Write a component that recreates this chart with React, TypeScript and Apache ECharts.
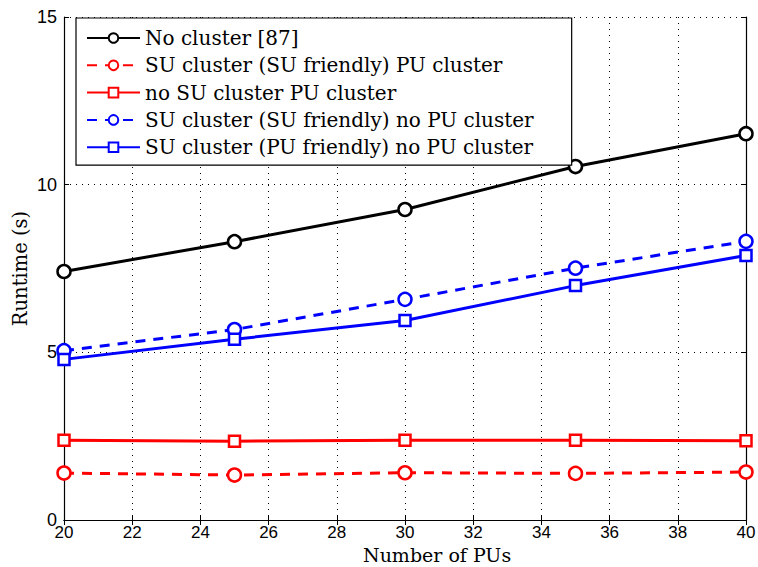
import React, { useEffect, useRef } from "react";
import * as echarts from "echarts";

const xValues = [20, 25, 30, 35, 40];
const noCluster = [7.41, 8.3, 9.26, 10.54, 11.52];
const suClusterSuFriendlyPu = [1.4, 1.34, 1.41, 1.39, 1.43];
const noSuClusterPu = [2.38, 2.35, 2.38, 2.38, 2.36];
const suClusterSuFriendlyNoPu = [5.05, 5.68, 6.58, 7.51, 8.31];
const suClusterPuFriendlyNoPu = [4.79, 5.39, 5.95, 6.99, 7.89];

const seriesNames = [
  "No cluster [87]",
  "SU cluster (SU friendly) PU cluster",
  "no SU cluster PU cluster",
  "SU cluster (SU friendly) no PU cluster",
  "SU cluster (PU friendly) no PU cluster",
];
const xAxisTitle = "Number of PUs";
const yAxisTitle = "Runtime (s)";

const pair = (ys: number[]) => xValues.map((x, i) => [x, ys[i]]);

export default function App() {
  const ref = useRef<HTMLDivElement>(null);
  useEffect(() => {
    if (!ref.current) return;
    const chart = echarts.init(ref.current, null, { renderer: "svg" });
    const mk = (
      name: string,
      data: number[],
      color: string,
      dashed: boolean,
      symbol: string,
      size: number,
      width: number
    ) => ({
      name,
      type: "line",
      data: pair(data),
      symbol,
      symbolSize: size,
      showAllSymbol: true,
      lineStyle: { color, width, type: dashed ? [10, 8] : "solid" },
      itemStyle: { color: "#fff", borderColor: color, borderWidth: 2.5 },
      emphasis: { disabled: true },
      z: 3,
    });
    const option: any = {
      animation: false,
      backgroundColor: "#fff",
      grid: { left: 64, right: 12, top: 17, bottom: 47, show: false, outerBoundsMode: "none", containLabel: false },
      legend: {
        left: 76,
        top: 18,
        orient: "vertical",
        itemWidth: 53,
        itemHeight: 12,
        itemGap: 7.3,
        padding: [10, 38, 8, 10],
        borderColor: "#000",
        borderWidth: 1.2,
        backgroundColor: "#fff",
        textStyle: { fontFamily: "DejaVu Serif", fontSize: 20, lineHeight: 20, color: "#000" },
        data: seriesNames,
        z: 10,
      },
      graphic: [
        {
          type: "text",
          left: 440 - 77,
          top: 545,
          style: {
            text: xAxisTitle,
            fontFamily: "DejaVu Serif",
            fontSize: 19,
            fill: "#000",
          },
        },
      ],
      xAxis: [
        {
          type: "value",
          min: 20,
          max: 40,
          interval: 2,
          axisLine: { lineStyle: { color: "#000", width: 1.2 } },
          axisTick: { inside: true, length: 5, lineStyle: { color: "#000" } },
          axisLabel: { fontFamily: "Liberation Sans", fontSize: 17, color: "#000", margin: 4 },
          splitLine: { show: true, lineStyle: { color: "#000", type: [1, 5], width: 1 } },
        },
        {
          type: "value",
          position: "top",
          min: 20,
          max: 40,
          interval: 2,
          axisLine: { lineStyle: { color: "#000", width: 1.2 } },
          axisTick: { inside: true, length: 5, lineStyle: { color: "#000" } },
          axisLabel: { show: false },
          splitLine: { show: false },
        },
      ],
      yAxis: [
        {
          type: "value",
          min: 0,
          max: 15,
          interval: 5,
          name: yAxisTitle,
          nameLocation: "middle",
          nameGap: 34,
          nameMoveOverlap: false,
          nameTextStyle: { fontFamily: "DejaVu Serif", fontSize: 19.5, color: "#000" },
          axisLine: { show: true, lineStyle: { color: "#000", width: 1.2 } },
          axisTick: { show: true, inside: true, length: 5, lineStyle: { color: "#000" } },
          axisLabel: { fontFamily: "Liberation Sans", fontSize: 18, color: "#000", margin: 7 },
          splitLine: { show: true, lineStyle: { color: "#000", type: [1, 5], width: 1 } },
        },
        {
          type: "value",
          position: "right",
          min: 0,
          max: 15,
          interval: 5,
          axisLine: { show: true, lineStyle: { color: "#000", width: 1.2 } },
          axisTick: { show: true, inside: true, length: 5, lineStyle: { color: "#000" } },
          axisLabel: { show: false },
          splitLine: { show: false },
        },
      ],
      series: [
        mk(seriesNames[0], noCluster, "#000000", false, "circle", 13, 3),
        mk(seriesNames[1], suClusterSuFriendlyPu, "#ff0000", true, "circle", 13, 3),
        mk(seriesNames[2], noSuClusterPu, "#ff0000", false, "rect", 11, 3),
        mk(seriesNames[3], suClusterSuFriendlyNoPu, "#0000ff", true, "circle", 13, 3),
        mk(seriesNames[4], suClusterPuFriendlyNoPu, "#0000ff", false, "rect", 11, 3),
      ],
    };
    chart.setOption(option);
    return () => chart.dispose();
  }, []);
  return <div ref={ref} style={{ width: 758, height: 567, position: "absolute", left: 0, top: 0 }} />;
}
